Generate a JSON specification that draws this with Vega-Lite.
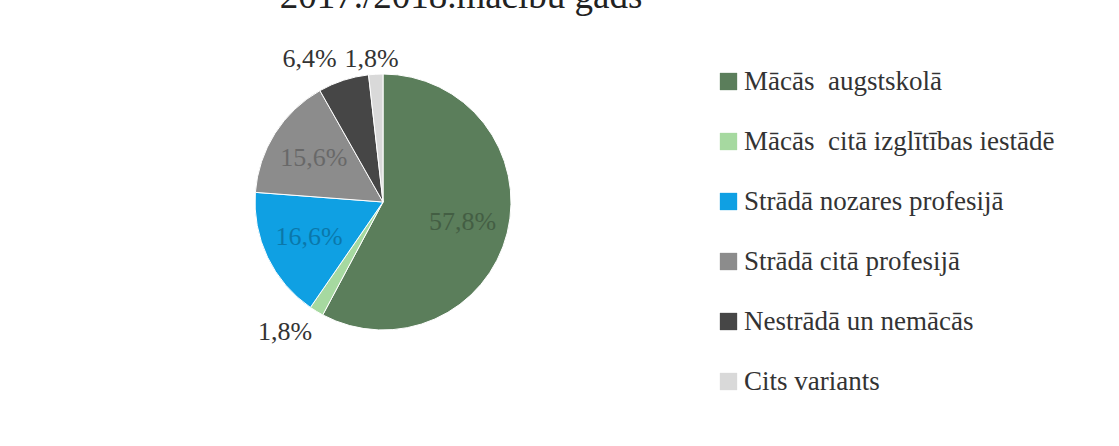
{
  "$schema": "https://vega.github.io/schema/vega-lite/v6.json",
  "width": 256,
  "height": 256,
  "autosize": "none",
  "padding": {"left": 255, "top": 74, "right": 608, "bottom": 116},
  "background": "white",
  "config": {"view": {"stroke": null}, "font": "Liberation Serif"},
  "title": {
    "text": "2017./2018.mācību gads",
    "font": "Liberation Serif",
    "fontSize": 37,
    "fontWeight": "normal",
    "color": "#222222",
    "anchor": "middle",
    "offset": 30,
    "dx": 78
  },
  "data": {
    "values": [
      {"category": "Mācās  augstskolā", "value": 57.8, "label": "57,8%", "order": 1},
      {"category": "Mācās  citā izglītības iestādē", "value": 1.8, "label": "1,8%", "order": 2},
      {"category": "Strādā nozares profesijā", "value": 16.6, "label": "16,6%", "order": 3},
      {"category": "Strādā citā profesijā", "value": 15.6, "label": "15,6%", "order": 4},
      {"category": "Nestrādā un nemācās", "value": 6.4, "label": "6,4%", "order": 5},
      {"category": "Cits variants", "value": 1.8, "label": "1,8%", "order": 6}
    ]
  },
  "transform": [
    {"stack": "value", "groupby": [], "as": ["v0", "v1"], "sort": [{"field": "order", "order": "ascending"}]},
    {"calculate": "(datum.v0 + datum.v1) / 2", "as": "mid"}
  ],
  "layer": [
    {
      "mark": {"type": "arc", "stroke": "white", "strokeWidth": 1, "radius": 128},
      "encoding": {
        "theta": {"field": "v0", "type": "quantitative", "scale": {"domain": [0, 100]}},
        "theta2": {"field": "v1"},
        "color": {
          "field": "category",
          "type": "nominal",
          "scale": {
            "domain": ["Mācās  augstskolā", "Mācās  citā izglītības iestādē", "Strādā nozares profesijā", "Strādā citā profesijā", "Nestrādā un nemācās", "Cits variants"],
            "range": ["#5b7e5b", "#a6d9a0", "#0fa0e3", "#8c8c8c", "#464646", "#d9d9d9"]
          },
          "legend": {
            "title": null,
            "orient": "none",
            "legendX": 460,
            "legendY": -6,
            "direction": "vertical",
            "symbolType": "square",
            "symbolSize": 300,
            "symbolStrokeWidth": 0,
            "labelFont": "Liberation Serif",
            "labelFontSize": 27,
            "labelColor": "#333333",
            "labelOffset": 2,
            "labelLimit": 400,
            "rowPadding": 32,
            "labelExpr": "replace(datum.label, '  ', '\u00a0 ')"
          }
        }
      }
    },
    {
      "transform": [{"filter": {"field": "category", "oneOf": ["Mācās  augstskolā", "Strādā nozares profesijā", "Strādā citā profesijā"]}}],
      "mark": {"type": "text", "radius": 82, "fontSize": 26, "font": "Liberation Serif", "fill": "#000000", "opacity": 0.25, "align": "center", "baseline": "middle"},
      "encoding": {
        "theta": {"field": "mid", "type": "quantitative", "scale": {"domain": [0, 100]}},
        "text": {"field": "label"}
      }
    },
    {
      "transform": [{"filter": {"field": "category", "equal": "Nestrādā un nemācās"}}],
      "mark": {"type": "text", "radius": 150, "dx": -27, "dy": 0, "fontSize": 26, "font": "Liberation Serif", "fill": "#333333", "align": "center", "baseline": "middle"},
      "encoding": {
        "theta": {"field": "mid", "type": "quantitative", "scale": {"domain": [0, 100]}},
        "text": {"field": "label"}
      }
    },
    {
      "transform": [{"filter": {"field": "category", "equal": "Cits variants"}}],
      "mark": {"type": "text", "radius": 150, "dx": -3, "dy": 7, "fontSize": 26, "font": "Liberation Serif", "fill": "#333333", "align": "center", "baseline": "middle"},
      "encoding": {
        "theta": {"field": "mid", "type": "quantitative", "scale": {"domain": [0, 100]}},
        "text": {"field": "label"}
      }
    },
    {
      "transform": [{"filter": {"field": "category", "equal": "Mācās  citā izglītības iestādē"}}],
      "mark": {"type": "text", "radius": 150, "dx": -20, "dy": 2, "fontSize": 26, "font": "Liberation Serif", "fill": "#333333", "align": "center", "baseline": "middle"},
      "encoding": {
        "theta": {"field": "mid", "type": "quantitative", "scale": {"domain": [0, 100]}},
        "text": {"field": "label"}
      }
    }
  ]
}
